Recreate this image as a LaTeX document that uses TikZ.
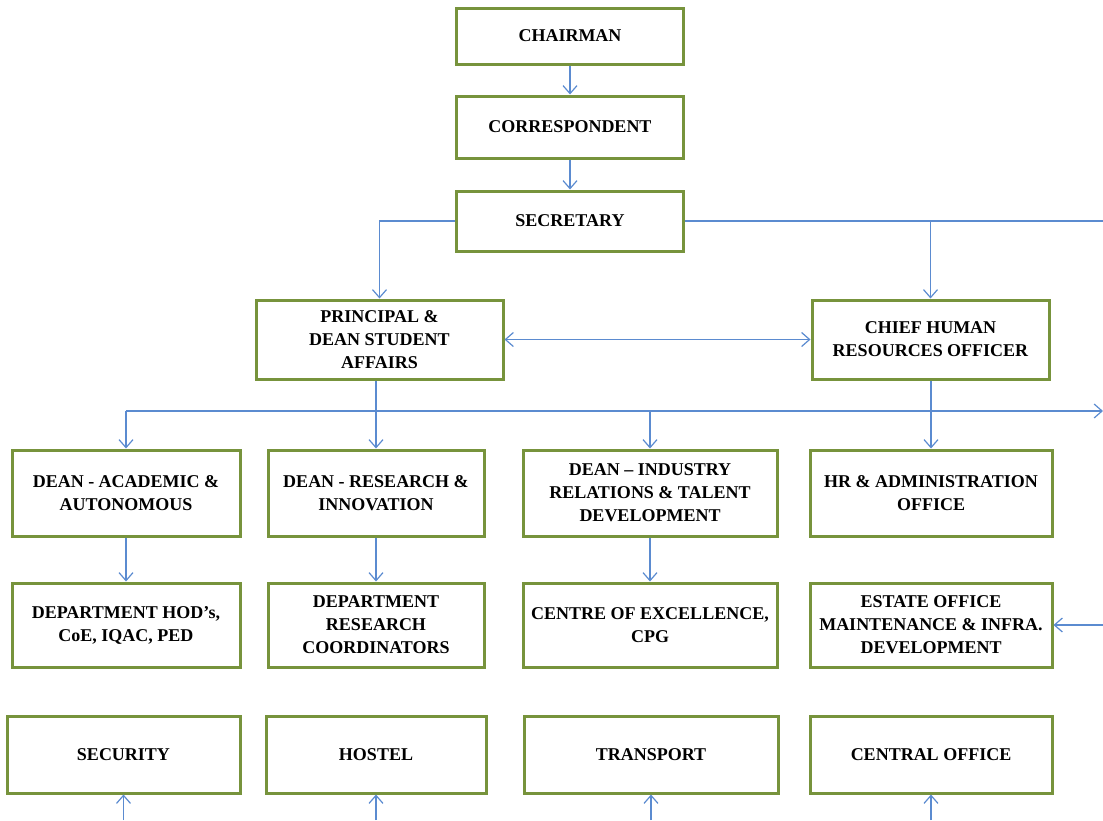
\documentclass[tikz,border=0pt]{standalone}
\usepackage{fontspec}
\setmainfont{Liberation Serif}
\usetikzlibrary{calc,arrows.meta}
\definecolor{boxgreen}{HTML}{77933C}
\definecolor{linkblue}{HTML}{5B8BD0}

\begin{document}
\begin{tikzpicture}[x=1pt,y=-1pt,>={Straight Barb[length=8pt,width=14pt,line width=1.2pt]},
  box/.style={draw=boxgreen,line width=3pt,fill=white,align=center,inner sep=2pt,
    font=\fontsize{18}{23}\selectfont\bfseries},
  link/.style={draw=linkblue,line width=1.2pt}]
\useasboundingbox (0,0) rectangle (1103,820);
% top of the chart
\node[box,minimum width=227pt,minimum height=56pt] (chair) at (570,36) {CHAIRMAN};
\node[box,minimum width=227pt,minimum height=62pt] (corr) at (570,127) {CORRESPONDENT};
\node[box,minimum width=227pt,minimum height=60pt] (sec) at (570,221) {SECRETARY};
\node[box,minimum width=247pt,minimum height=79pt] (princ) at (379.5,339.5)
  {PRINCIPAL \&\\DEAN STUDENT\\AFFAIRS};
\node[box,minimum width=237pt,minimum height=79pt] (chro) at (930.5,339.5)
  {CHIEF HUMAN\\RESOURCES OFFICER};
% deans and offices
\node[box,minimum width=228pt,minimum height=86pt] (dacad) at (126,493)
  {DEAN - ACADEMIC \&\\AUTONOMOUS};
\node[box,minimum width=216pt,minimum height=86pt] (dres) at (376,493)
  {DEAN - RESEARCH \&\\INNOVATION};
\node[box,minimum width=254pt,minimum height=86pt] (dind) at (650,493)
  {DEAN -- INDUSTRY\\RELATIONS \& TALENT\\DEVELOPMENT};
\node[box,minimum width=242pt,minimum height=86pt] (hradm) at (931,493)
  {HR \& ADMINISTRATION\\OFFICE};
\node[box,minimum width=228pt,minimum height=84pt] (hod) at (126,625)
  {DEPARTMENT HOD's,\\CoE, IQAC, PED};
\node[box,minimum width=216pt,minimum height=84pt] (rescoord) at (376,625)
  {DEPARTMENT\\RESEARCH\\COORDINATORS};
\node[box,minimum width=254pt,minimum height=84pt] (coe) at (650,625)
  {CENTRE OF EXCELLENCE,\\CPG};
\node[box,minimum width=242pt,minimum height=84pt] (estate) at (931,625)
  {ESTATE OFFICE\\MAINTENANCE \& INFRA.\\DEVELOPMENT};
% bottom row
\node[box,minimum width=233pt,minimum height=77pt] (secur) at (123.5,754.5) {SECURITY};
\node[box,minimum width=220pt,minimum height=77pt] (hostel) at (376,754.5) {HOSTEL};
\node[box,minimum width=254pt,minimum height=77pt] (transp) at (651,754.5) {TRANSPORT};
\node[box,minimum width=242pt,minimum height=77pt] (central) at (931,754.5) {CENTRAL OFFICE};

\coordinate (secend) at (1103,221);
\coordinate (busleft) at (126,411);
\coordinate (busend) at (1103,411);
\coordinate (estin) at (1103,625);

\draw[link,->] (chair) -- (corr);
\draw[link,->] (corr) -- (sec);
\draw[link,->] (sec.west) -| (princ.north);
\draw[link] (sec.east) -- (secend);
\draw[link,->] (chro.north |- secend) -- (chro.north);
\draw[link,<->] (princ.east) -- (chro.west);
\draw[link] (dres.north |- princ.south) -- (dres.north |- busleft);
\draw[link,->] (busleft) -- (busend);
\draw[link,->] (busleft) -- (dacad.north);
\draw[link,->] (dres.north |- busleft) -- (dres.north);
\draw[link,->] (dind.north |- busleft) -- (dind.north);
\draw[link,->] (hradm.north |- chro.south) -- (hradm.north);
\draw[link,->] (dacad) -- (hod);
\draw[link,->] (dres) -- (rescoord);
\draw[link,->] (dind) -- (coe);
\draw[link,->] (estin) -- (estate.east);
\foreach \b in {secur,hostel,transp,central}
  \draw[link,->] (\b.south |- 0,820) -- (\b.south);
\end{tikzpicture}
\end{document}
